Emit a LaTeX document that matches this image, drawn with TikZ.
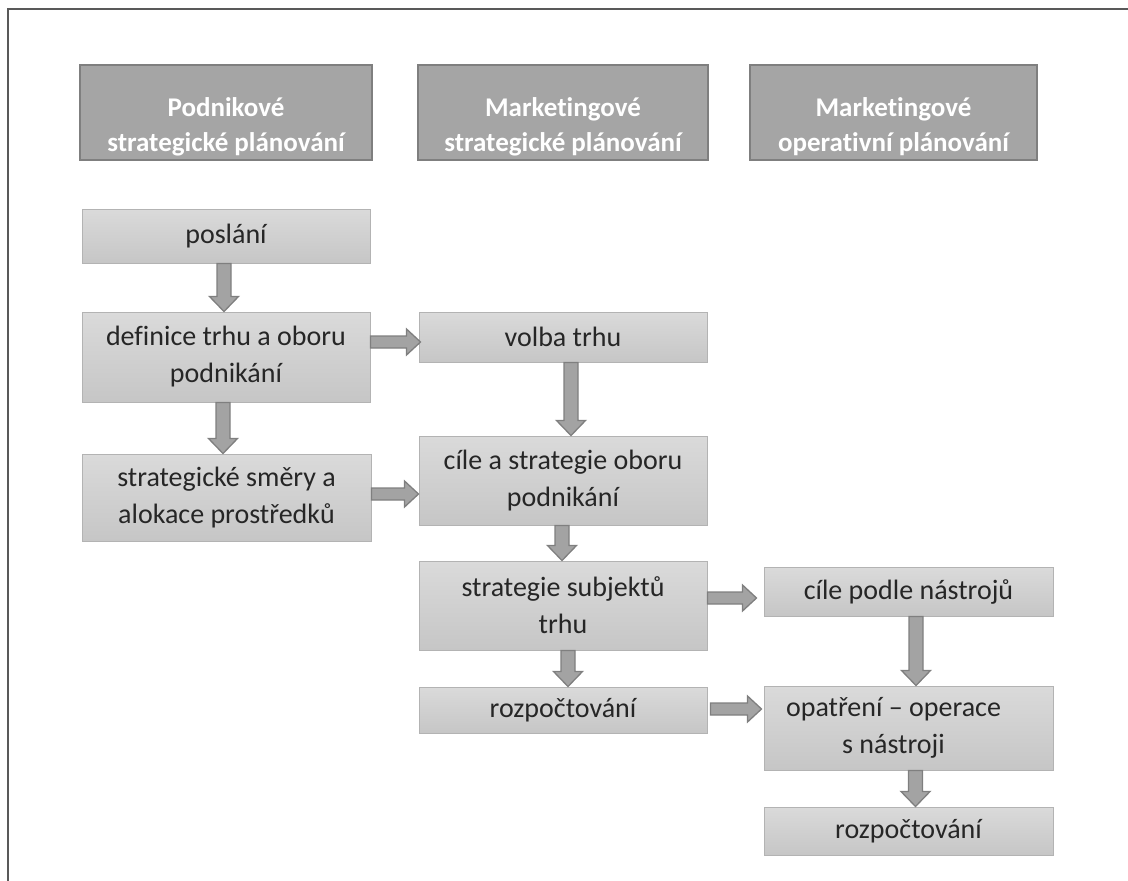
\documentclass[tikz,border=0pt]{standalone}
\usepackage{fontspec}
\setmainfont{Carlito}[Ligatures=NoCommon]
\usetikzlibrary{calc}

\definecolor{framegray}{HTML}{595959}
\definecolor{headfill}{HTML}{A5A5A5}
\definecolor{headline}{HTML}{7F7F7F}
\definecolor{bodytop}{HTML}{DADADA}
\definecolor{bodybot}{HTML}{C6C6C6}
\definecolor{bodyline}{HTML}{B3B3B3}
\definecolor{bodytext}{HTML}{262626}
\definecolor{arrowfill}{HTML}{A3A3A3}
\definecolor{arrowline}{HTML}{7F7F7F}

\tikzset{
  headbox/.style={draw=headline, fill=headfill, line width=2pt, text=white,
    font=\bfseries\fontsize{27}{35}\selectfont, align=center, inner sep=0pt,
    text height=85pt, text depth=8pt},
  bodybox/.style={draw=bodyline, line width=1pt, top color=bodytop,
    bottom color=bodybot, text=bodytext,
    font=\fontsize{28}{37}\selectfont, align=center, inner sep=0pt},
  % block arrow drawn as an outlined polygon between two points
  blockarrow/.style n args={3}{draw=arrowline, fill=arrowfill, line width=1.3pt,
    to path={
      ($(\tikztostart)!#1!90:(\tikztotarget)$)
      -- ($(\tikztotarget)!#3!(\tikztostart)!#1!90:(\tikztotarget)$)
      -- ($(\tikztotarget)!#3!(\tikztostart)!#2!90:(\tikztotarget)$)
      -- (\tikztotarget)
      -- ($(\tikztotarget)!#3!(\tikztostart)!#2!-90:(\tikztotarget)$)
      -- ($(\tikztotarget)!#3!(\tikztostart)!#1!-90:(\tikztotarget)$)
      -- ($(\tikztostart)!#1!-90:(\tikztotarget)$)
      -- cycle}},
  varrow/.style={blockarrow={7pt}{14.5pt}{15pt}},
  harrow/.style={blockarrow={6pt}{13pt}{14pt}}
}

\begin{document}
\begin{tikzpicture}[x=1pt, y=-1pt]
  \useasboundingbox (0,0) rectangle (1128,881);

  % partial outer frame
  \draw[framegray, line width=2pt] (8,881) -- (8,9) -- (1128,9);

  % column headers
  \node[headbox, minimum width=292pt, minimum height=95pt] (h1) at (226,112.5)
    {Podnikové\\strategické plánování};
  \node[headbox, minimum width=290pt, minimum height=95pt] (h2) at (563,112.5)
    {Marketingové\\strategické plánování};
  \node[headbox, minimum width=287pt, minimum height=95pt] (h3) at (893.5,112.5)
    {Marketingové\\operativní plánování};

  % first column
  \node[bodybox, minimum width=288pt, minimum height=54pt] (poslani) at (226,236)
    {poslání};
  \node[bodybox, minimum width=288pt, minimum height=90pt] (definice) at (226,357)
    {definice trhu a oboru\\podnikání};
  \node[bodybox, minimum width=289pt, minimum height=87pt] (smery) at (226.5,497.5)
    {strategické směry a\\alokace prostředků};

  % second column
  \node[bodybox, minimum width=288pt, minimum height=50pt] (volba) at (563,337)
    {volba trhu};
  \node[bodybox, minimum width=288pt, minimum height=89pt] (cile) at (563,480.5)
    {cíle a strategie oboru\\podnikání};
  \node[bodybox, minimum width=288pt, minimum height=89pt] (subjekty) at (563,605.5)
    {strategie subjektů\\trhu};
  \node[bodybox, minimum width=288pt, minimum height=46pt] (rozp) at (563,710)
    {rozpočtování};

  % third column
  \node[bodybox, minimum width=289pt, minimum height=49pt] (nastroje) at (908.5,591.5)
    {cíle podle nástrojů};
  \node[bodybox, minimum width=289pt, minimum height=84pt] (opatreni) at (908.5,728)
    {\begin{tabular}{@{}c@{\hspace{30pt}}}opatření – operace\\s nástroji\end{tabular}};
  \node[bodybox, minimum width=289pt, minimum height=48pt] (rozpb) at (908.5,831)
    {rozpočtování};

  % vertical arrows
  \draw[varrow] ([xshift=-2pt]poslani.south) to ([xshift=-2pt]definice.north);
  \draw[varrow] ([xshift=-3pt]definice.south) to ([xshift=-3.5pt]smery.north);
  \draw[varrow] ([xshift=8pt]volba.south) to ([xshift=8pt]cile.north);
  \draw[varrow] ([xshift=-1pt]cile.south) to ([xshift=-1pt]subjekty.north);
  \draw[varrow] ([xshift=5pt]subjekty.south) to ([xshift=5pt]rozp.north);
  \draw[varrow] ([xshift=7.5pt]nastroje.south) to ([xshift=7.5pt]opatreni.north);
  \draw[varrow] ([xshift=7pt]opatreni.south) to ([xshift=7pt]rozpb.north);

  % horizontal arrows
  \draw[harrow] ([yshift=15pt]definice.east) to ([xshift=2pt,yshift=-5pt]volba.west);
  \draw[harrow] ([yshift=3.5pt]smery.east) to ([yshift=-13.5pt]cile.west);
  \draw[harrow] ([yshift=7.5pt]subjekty.east) to ([xshift=-7pt,yshift=-6.5pt]nastroje.west);
  \draw[harrow] ([xshift=3pt,yshift=1pt]rozp.east) to ([xshift=-2pt,yshift=19pt]opatreni.west);
\end{tikzpicture}
\end{document}
